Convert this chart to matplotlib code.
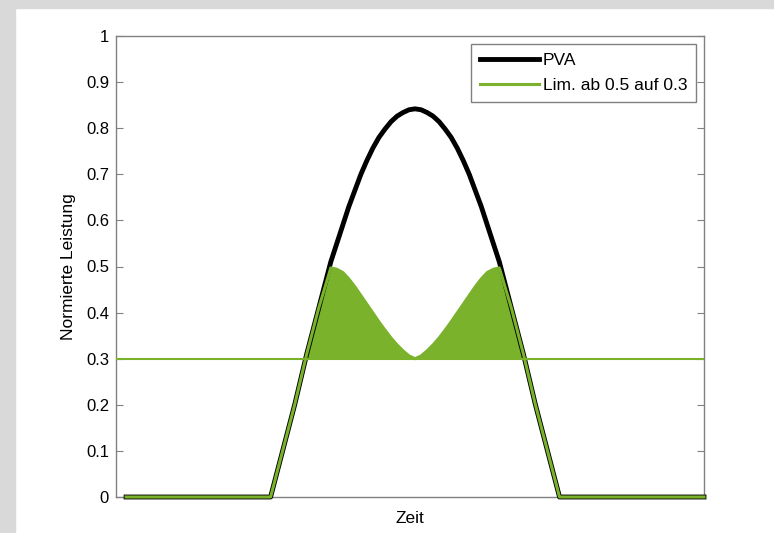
import matplotlib.pyplot as plt
from matplotlib.patches import Rectangle

plt.rcParams['font.family'] = ['Liberation Sans', 'DejaVu Sans']

# time in hours
zeit = [0, 6, 6.5, 7, 7.5, 8, 8.5, 8.75, 9, 9.25, 9.5, 9.75, 10, 10.25, 10.5, 10.75,
        11, 11.25, 11.5, 11.75, 12, 12.25, 12.5, 12.75, 13, 13.25, 13.5, 13.75, 14,
        14.25, 14.5, 14.75, 15, 15.25, 15.5, 16, 16.5, 17, 17.5, 18, 24]
pva = [0, 0, 0.10, 0.20, 0.31, 0.41, 0.51, 0.55, 0.59, 0.63, 0.665, 0.70, 0.73, 0.757,
       0.78, 0.798, 0.814, 0.826, 0.834, 0.840, 0.842, 0.840, 0.834, 0.826, 0.814, 0.798,
       0.78, 0.757, 0.73, 0.70, 0.665, 0.63, 0.59, 0.55, 0.51, 0.41, 0.31, 0.20, 0.10, 0, 0]
lim = [0, 0, 0.10, 0.20, 0.31, 0.41, 0.497, 0.494, 0.487, 0.473, 0.456, 0.437, 0.418, 0.399,
       0.38, 0.362, 0.345, 0.33, 0.317, 0.306, 0.30, 0.306, 0.317, 0.33, 0.345, 0.362,
       0.38, 0.399, 0.418, 0.437, 0.456, 0.473, 0.487, 0.494, 0.497, 0.41, 0.31, 0.20, 0.10, 0, 0]
grenze = 0.3
yticks = [0, 0.1, 0.2, 0.3, 0.4, 0.5, 0.6, 0.7, 0.8, 0.9, 1]
yticklabels = ['0', '0.1', '0.2', '0.3', '0.4', '0.5', '0.6', '0.7', '0.8', '0.9', '1']

green = '#7ab32b'

fig = plt.figure(figsize=(7.74, 5.33), dpi=100)
fig.patches.append(Rectangle((0, 1 - 8 / 533), 1, 8 / 533, transform=fig.transFigure,
                             color='#d9d9d9', zorder=0))
fig.patches.append(Rectangle((0, 0), 15 / 774, 1, transform=fig.transFigure,
                             color='#d9d9d9', zorder=0))
ax = fig.add_axes([116 / 774, 36 / 533, 588 / 774, 461 / 533])

ax.fill_between(zeit, lim, grenze, where=[v >= grenze for v in lim], interpolate=True,
                facecolor=green, edgecolor='#8a8a8a', linewidth=1, zorder=2)
ax.plot(zeit, pva, color='black', linewidth=3.5, label='PVA', zorder=3,
        solid_joinstyle='round', clip_on=False)
ax.plot(zeit, lim, color=green, linewidth=2.2, label='Lim. ab 0.5 auf 0.3', zorder=4,
        clip_on=False)
ax.axhline(grenze, color=green, linewidth=1.5, zorder=4)

ax.set_xlim(-0.42, 24)
ax.set_ylim(0, 1)
ax.set_yticks(yticks)
ax.set_yticklabels(yticklabels)
ax.set_xticks([])
ax.tick_params(axis='y', direction='in', length=5, color='#808080', labelsize=12,
               right=True, left=True, pad=5)
for s in ax.spines.values():
    s.set_color('#808080')
    s.set_linewidth(1)
    s.set_zorder(1)

ax.set_xlabel('Zeit', fontsize=12.5, labelpad=10)
ax.set_ylabel('Normierte Leistung', fontsize=12.5, labelpad=7)

leg = ax.legend(loc='upper right', fontsize=12.5, handlelength=3.4, fancybox=False,
                edgecolor='#808080', framealpha=1, borderaxespad=0.45,
                borderpad=0.5, labelspacing=0.6, handletextpad=0.25)
leg.get_frame().set_linewidth(1)

fig.savefig('out.png', dpi=100)
